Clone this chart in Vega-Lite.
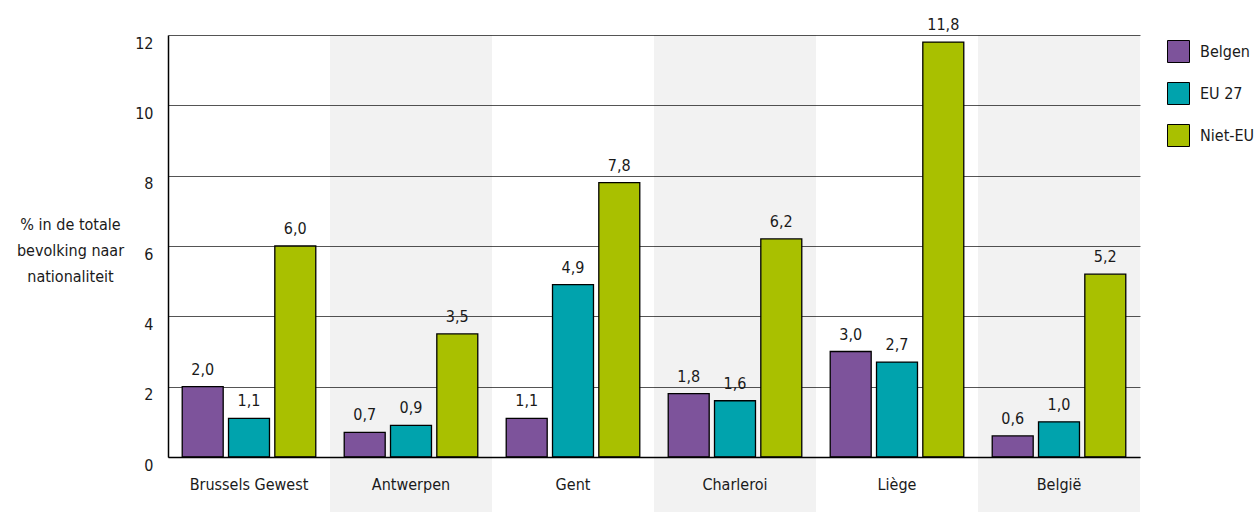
{
  "$schema": "https://vega.github.io/schema/vega-lite/v6.json",
  "width": 972,
  "height": 422,
  "autosize": "none",
  "padding": {"left": 168, "top": 35, "right": 118, "bottom": 55},
  "background": "white",
  "datasets": {
    "bars": [
      {"regio": "Brussels Gewest", "groep": "Belgen", "pct": 2.0},
      {"regio": "Brussels Gewest", "groep": "EU 27", "pct": 1.1},
      {"regio": "Brussels Gewest", "groep": "Niet-EU", "pct": 6.0},
      {"regio": "Antwerpen", "groep": "Belgen", "pct": 0.7},
      {"regio": "Antwerpen", "groep": "EU 27", "pct": 0.9},
      {"regio": "Antwerpen", "groep": "Niet-EU", "pct": 3.5},
      {"regio": "Gent", "groep": "Belgen", "pct": 1.1},
      {"regio": "Gent", "groep": "EU 27", "pct": 4.9},
      {"regio": "Gent", "groep": "Niet-EU", "pct": 7.8},
      {"regio": "Charleroi", "groep": "Belgen", "pct": 1.8},
      {"regio": "Charleroi", "groep": "EU 27", "pct": 1.6},
      {"regio": "Charleroi", "groep": "Niet-EU", "pct": 6.2},
      {"regio": "Liège", "groep": "Belgen", "pct": 3.0},
      {"regio": "Liège", "groep": "EU 27", "pct": 2.7},
      {"regio": "Liège", "groep": "Niet-EU", "pct": 11.8},
      {"regio": "België", "groep": "Belgen", "pct": 0.6},
      {"regio": "België", "groep": "EU 27", "pct": 1.0},
      {"regio": "België", "groep": "Niet-EU", "pct": 5.2}
    ],
    "bands": [
      {"regio": "Antwerpen"},
      {"regio": "Charleroi"},
      {"regio": "België"}
    ]
  },
  "encoding": {
    "x": {
      "field": "regio",
      "type": "nominal",
      "scale": {
        "domain": ["Brussels Gewest", "Antwerpen", "Gent", "Charleroi", "Liège", "België"],
        "paddingInner": 0,
        "paddingOuter": 0
      },
      "axis": {
        "title": null,
        "labelAngle": 0,
        "ticks": false,
        "domainColor": "#000000",
        "domainWidth": 1.5,
        "labelPadding": 19,
        "labelBaseline": "top",
        "labelFontSize": 16,
        "labelColor": "#1a1a1a",
        "grid": false
      }
    }
  },
  "layer": [
    {
      "data": {"name": "bands"},
      "mark": {"type": "rect", "fill": "#000000", "fillOpacity": 0.051, "clip": false},
      "encoding": {
        "y": {"datum": 12, "type": "quantitative"},
        "y2": {"datum": -1.6}
      }
    },
    {
      "data": {"name": "bars"},
      "mark": {"type": "bar", "stroke": "#000000", "strokeWidth": 1.3},
      "encoding": {
        "xOffset": {
          "field": "groep",
          "type": "nominal",
          "scale": {"domain": ["Belgen", "EU 27", "Niet-EU"], "paddingInner": 0.115, "paddingOuter": 0.307}
        },
        "y": {
          "field": "pct",
          "type": "quantitative",
          "scale": {"domain": [0, 12], "nice": false},
          "axis": {
            "values": [0, 2, 4, 6, 8, 10, 12],
            "ticks": false,
            "grid": true,
            "gridColor": "#555555",
            "gridWidth": 1,
            "domainColor": "#000000",
            "domainWidth": 1.5,
            "labelPadding": 15,
            "labelOffset": 8,
            "labelFlush": false,
            "labelFontSize": 16,
            "labelColor": "#1a1a1a",
            "format": "d",
            "title": ["% in de totale", "bevolking naar", "nationaliteit"],
            "titleAngle": 0,
            "titleAlign": "center",
            "titleBaseline": "top",
            "titleX": -98,
            "titleY": 181,
            "titleFontSize": 16,
            "titleFontWeight": "normal",
            "titleColor": "#1a1a1a",
            "titleLineHeight": 26
          }
        },
        "color": {
          "field": "groep",
          "type": "nominal",
          "scale": {"domain": ["Belgen", "EU 27", "Niet-EU"], "range": ["#7d539b", "#00a3ad", "#a9c000"]},
          "legend": {
            "title": null,
            "orient": "none",
            "legendX": 999,
            "legendY": 5,
            "symbolType": "square",
            "symbolSize": 484,
            "symbolStrokeColor": "#000000",
            "symbolStrokeWidth": 1,
            "symbolOpacity": 1,
            "labelFontSize": 16,
            "labelColor": "#1a1a1a",
            "labelOffset": 10,
            "rowPadding": 15
          }
        }
      }
    },
    {
      "data": {"name": "bars"},
      "mark": {"type": "text", "baseline": "alphabetic", "dy": -12, "fontSize": 16, "color": "#1a1a1a"},
      "encoding": {
        "xOffset": {
          "field": "groep",
          "type": "nominal",
          "scale": {"domain": ["Belgen", "EU 27", "Niet-EU"], "paddingInner": 0.115, "paddingOuter": 0.307}
        },
        "y": {"field": "pct", "type": "quantitative"},
        "text": {"field": "pct", "type": "quantitative", "format": ".1f"}
      }
    }
  ],
  "config": {
    "font": "DejaVu Sans Condensed, Liberation Sans, sans-serif",
    "view": {"stroke": null},
    "locale": {"number": {"decimal": ",", "thousands": ".", "grouping": [3], "currency": ["", " €"]}}
  }
}
